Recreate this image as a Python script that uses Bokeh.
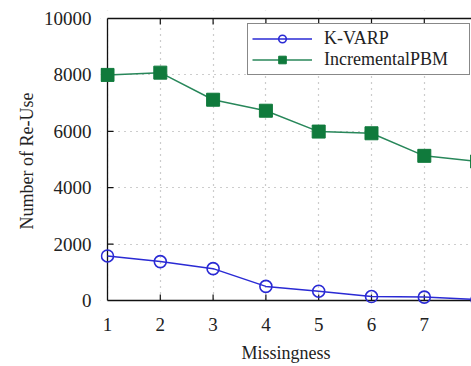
import math
from bokeh.plotting import figure
from bokeh.models import (LinearAxis, FixedTicker, BoxAnnotation, Legend, LegendItem, Range1d)
from bokeh.embed import file_html
from bokeh.resources import INLINE

missingness = [1, 2, 3, 4, 5, 6, 7, 8]
kvarp = [1580, 1380, 1130, 500, 330, 140, 120, 30]
incremental_pbm = [8000, 8080, 7120, 6730, 5990, 5930, 5130, 4930]
x_ticks = [1, 2, 3, 4, 5, 6, 7, 8]
y_ticks = [0, 2000, 4000, 6000, 8000, 10000]

FONT = "Liberation Serif"
BLUE = "#2a2ad4"
GREEN_LINE = "#28875a"
GREEN_FILL = "#107a3c"
INK = "#111111"

p = figure(width=471, height=366, output_backend="svg", toolbar_location=None,
           x_range=Range1d(0.8674, 7.894), y_range=Range1d(-390, 10284),
           x_axis_location=None, y_axis_location=None,
           min_border_left=100, min_border_right=0, min_border_top=10, min_border_bottom=55)
p.outline_line_color = None
p.background_fill_color = "white"

def style_axis(ax):
    ax.axis_line_color = None
    ax.major_tick_line_color = None
    ax.minor_tick_line_color = None
    ax.major_label_text_font = FONT
    ax.major_label_text_font_size = "19px"
    ax.major_label_text_color = "#222222"
    ax.axis_label_text_font = FONT
    ax.axis_label_text_font_size = "18px"
    ax.axis_label_text_font_style = "normal"
    ax.axis_label_text_color = "#222222"

xaxis = LinearAxis(ticker=FixedTicker(ticks=x_ticks), axis_label="Missingness")
style_axis(xaxis)
xaxis.major_label_standoff = 0
xaxis.axis_label_standoff = 9
p.add_layout(xaxis, "below")

yaxis = LinearAxis(ticker=FixedTicker(ticks=y_ticks), axis_label="Number of Re-Use")
style_axis(yaxis)
yaxis.major_label_standoff = 3
yaxis.axis_label_standoff = 4
p.add_layout(yaxis, "left")

p.xgrid.ticker = FixedTicker(ticks=x_ticks)
p.ygrid.ticker = FixedTicker(ticks=y_ticks)
for g in (p.xgrid, p.ygrid):
    g.grid_line_color = "#9a9a9a"
    g.grid_line_dash = "1 5"
    g.grid_line_width = 1.2

# mask grid outside the axes box
for kw in (dict(right=x_ticks[0]), dict(top=y_ticks[0]), dict(bottom=y_ticks[-1])):
    p.add_layout(BoxAnnotation(fill_color="white", fill_alpha=1, line_color=None,
                               level="underlay", **kw))

# axes box: left, bottom and top borders, with inward ticks
p.segment(x0=[x_ticks[0], x_ticks[0], x_ticks[0]], y0=[y_ticks[0], y_ticks[0], y_ticks[-1]],
          x1=[x_ticks[0], x_ticks[-1], x_ticks[-1]], y1=[y_ticks[-1], y_ticks[0], y_ticks[-1]],
          line_color=INK, line_width=1.3)
p.ray(x=[x_ticks[0]] * len(y_ticks[1:-1]), y=y_ticks[1:-1], length=6, length_units="screen",
      angle=0, line_color=INK, line_width=1.2)
p.ray(x=x_ticks[1:], y=[y_ticks[0]] * len(x_ticks[1:]), length=6, length_units="screen",
      angle=math.pi / 2, line_color=INK, line_width=1.2)
p.ray(x=x_ticks[1:], y=[y_ticks[-1]] * len(x_ticks[1:]), length=6, length_units="screen",
      angle=-math.pi / 2, line_color=INK, line_width=1.2)

l1 = p.line(missingness, kvarp, line_color=BLUE, line_width=1.5)
s1 = p.scatter(missingness, kvarp, marker="circle", size=12, line_color=BLUE,
               fill_color=None, line_width=1.6)
l2 = p.line(missingness, incremental_pbm, line_color=GREEN_LINE, line_width=1.5)
s2 = p.scatter(missingness, incremental_pbm, marker="square", size=13, line_color=GREEN_FILL,
               fill_color=GREEN_FILL, line_width=1)

legend = Legend(items=[LegendItem(label="K-VARP", renderers=[l1, s1]),
                       LegendItem(label="IncrementalPBM", renderers=[l2, s2])],
                location=(147, 236))
legend.border_line_color = INK
legend.border_line_width = 1.2
legend.background_fill_alpha = 1
legend.label_text_font = FONT
legend.label_text_font_size = "18px"
legend.label_text_color = "#222222"
legend.glyph_width = 60
legend.glyph_height = 19
legend.label_height = 19
legend.label_width = 141
legend.label_standoff = 12
legend.padding = 4
legend.spacing = 0
legend.margin = 0
p.add_layout(legend, "center")

open("out.html", "w").write(file_html(p, INLINE))
